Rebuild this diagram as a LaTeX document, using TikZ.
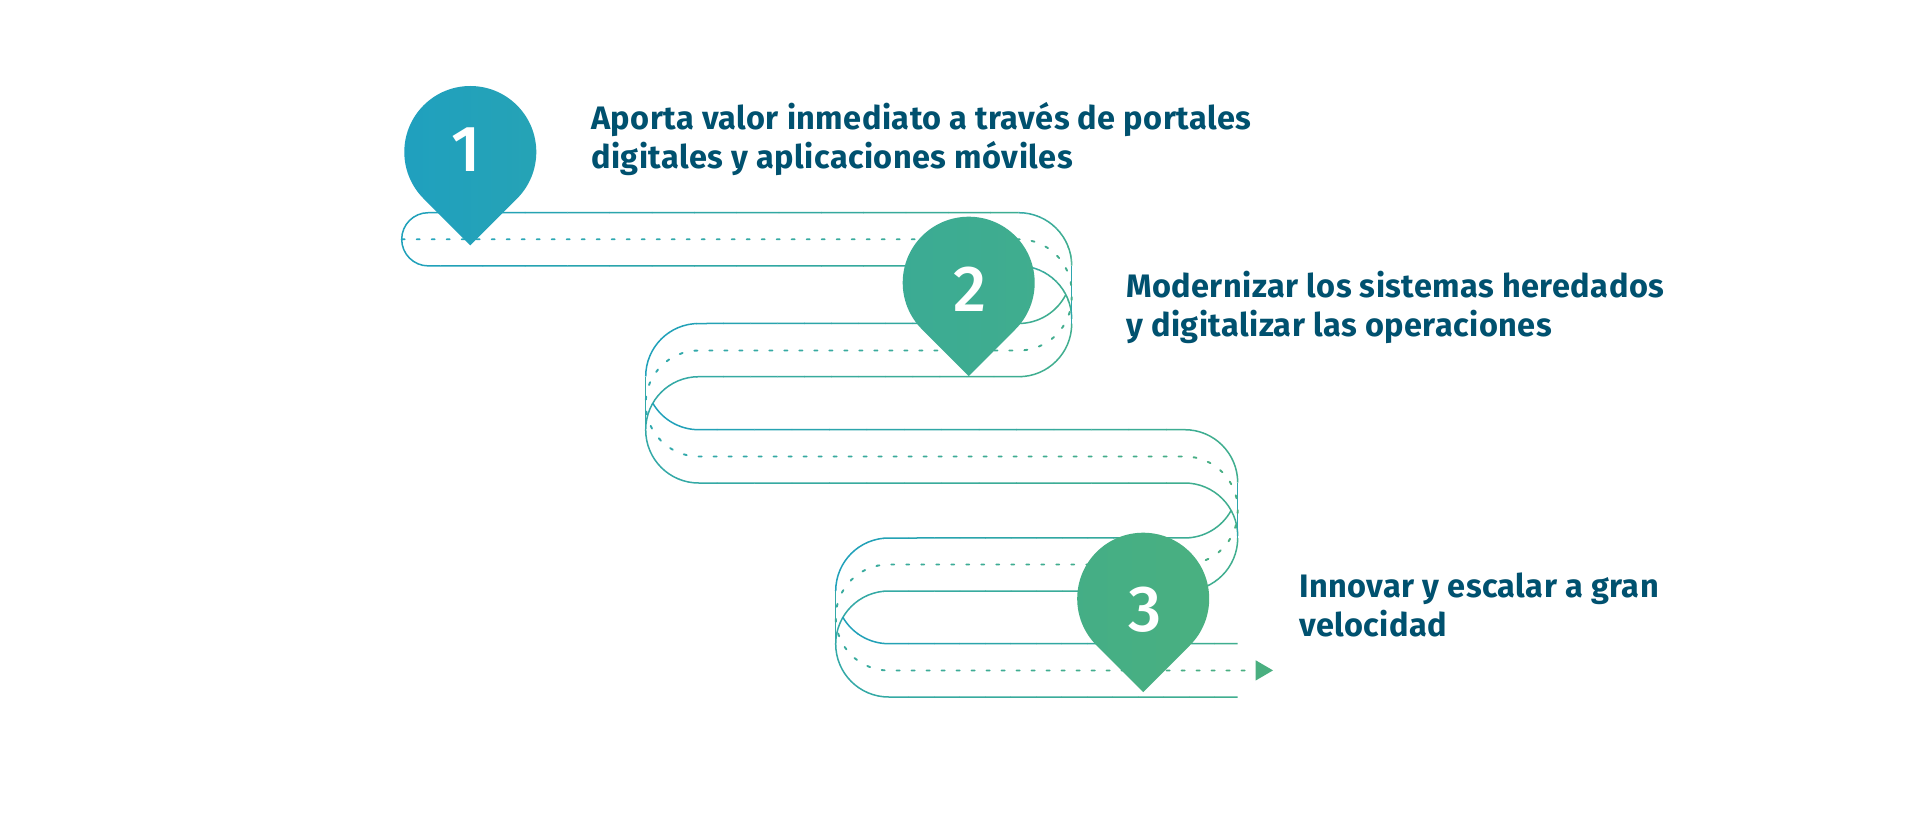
\documentclass[tikz,border=0pt]{standalone}
\usepackage{fontspec}
\setmainfont{Fira Sans}
\newfontfamily\capfont{Fira Sans}[LetterSpace=1.4]
\newfontfamily\numfont{Fira Sans Medium}
\definecolor{blueL}{HTML}{1FA0BC}
\definecolor{tealL}{HTML}{33A9A8}
\definecolor{greenR}{HTML}{40AE8E}
\definecolor{greenE}{HTML}{4AAF80}
\definecolor{dotL}{HTML}{26A6C0}
\definecolor{inkText}{HTML}{00516F}
\definecolor{pinAa}{HTML}{1FA0BF}
\definecolor{pinAb}{HTML}{26A3B5}
\definecolor{pinBa}{HTML}{3BAB94}
\definecolor{pinBb}{HTML}{40AD8E}
\definecolor{pinCa}{HTML}{44AE86}
\definecolor{pinCb}{HTML}{4AB080}
\tikzset{
  strand/.style={line width=1.5pt},
  dotline/.style={line width=1.9pt,line cap=round,dash pattern=on 3pt off 12pt},
  caption/.style={font=\capfont\fontsize{32.5}{39}\selectfont\bfseries,text=inkText,align=left,anchor=north west,inner sep=0pt},
  numeral/.style={font=\numfont\fontsize{65}{65}\selectfont,text=white,anchor=base,inner sep=0pt},
}
\newcommand\gstroke[5]{%
  \foreach \i in {0,...,15}{%
    \pgfmathsetmacro\xa{#1+(#2-#1)*\i/16}%
    \pgfmathsetmacro\xb{#1+(#2-#1)*(\i+1)/16+0.4}%
    \pgfmathtruncatemacro\p{100-100*(\i+0.5)/16}%
    \begin{scope}
      \clip (\xa,0) rectangle (\xb,837);
      \draw[strand,draw=#3!\p!#4] #5;
    \end{scope}
  }%
}
\newcommand\pinshape[5]{% cx cy colL colR r
  \path[left color=#3,right color=#4]
    (#1,#2+1.41421*#5) -- (#1-0.70711*#5,#2+0.70711*#5)
    arc[start angle=135,end angle=405,radius=#5] -- cycle;
}
\begin{document}
\begin{tikzpicture}[x=1pt,y=-1pt]
\useasboundingbox (0,0) rectangle (1920,837);
\fill[white] (0,0) rectangle (1920,837);
% band 1 with its rounded left end
\gstroke{398}{1075}{blueL}{greenR}{(1018.7,212.7) -- (428.3,212.7) arc[start angle=270,end angle=90,radius=26.6] -- (1018.7,265.9)}
\gstroke{1015}{1075}{tealL}{greenR}{(1018.7,212.7) arc[start angle=-90,end angle=0,radius=53]}
\gstroke{1015}{1075}{tealL}{greenR}{(1018.7,265.9) arc[start angle=-90,end angle=0,radius=53]}
% band 2: the upper edge starts at the crossing on the right
\gstroke{642}{1075}{blueL}{greenR}{(1065.8,294.7) arc[start angle=27.2,end angle=90,radius=53] -- (698.7,323.5) arc[start angle=270,end angle=180,radius=53]}
\gstroke{642}{1075}{tealL}{greenR}{(1071.7,323.7) arc[start angle=0,end angle=90,radius=53] -- (698.7,376.7) arc[start angle=270,end angle=180,radius=53]}
% band 3: the upper edge starts at the crossing on the left
\gstroke{642}{1241}{blueL}{greenR}{(652.8,403.2) arc[start angle=150,end angle=90,radius=53] -- (1184.7,429.7) arc[start angle=-90,end angle=0,radius=53]}
\gstroke{642}{1241}{tealL}{greenR}{(645.7,430) arc[start angle=180,end angle=90,radius=53] -- (1184.7,483) arc[start angle=-90,end angle=0,radius=53]}
% band 4: the upper edge starts at the crossing on the right
\gstroke{832}{1241}{blueL}{greenR}{(1231.1,510.5) arc[start angle=28.8,end angle=90,radius=53] -- (888.7,538) arc[start angle=270,end angle=180,radius=53]}
\gstroke{832}{1241}{tealL}{greenR}{(1237.7,538) arc[start angle=0,end angle=90,radius=53] -- (888.7,591) arc[start angle=270,end angle=180,radius=53]}
% band 5: the upper edge starts at the crossing on the left
\gstroke{832}{1240}{blueL}{greenR}{(842.8,617.2) arc[start angle=150,end angle=90,radius=53] -- (1237.7,643.7)}
\gstroke{832}{1240}{tealL}{greenR}{(835.7,644) arc[start angle=180,end angle=90,radius=53] -- (1237.7,697)}
% straight sides of the turns
\draw[strand,draw=tealL!70!blueL] (1071.7,265.9) -- (1071.7,323.7);
\draw[strand,draw=tealL] (645.7,376.7) -- (645.7,430);
\draw[strand,draw=tealL!70!blueL] (1237.7,483) -- (1237.7,538);
\draw[strand,draw=tealL] (835.7,591) -- (835.7,644);
% dotted centre line
\foreach \i in {0,...,19}{%
  \pgfmathsetmacro\xa{399+43.5*\i}%
  \pgfmathsetmacro\xb{399+43.5*(\i+1)+0.4}%
  \pgfmathtruncatemacro\p{100-100*(\i+0.5)/20}%
  \begin{scope}
    \clip (\xa,0) rectangle (\xb,837);
    \draw[dotline,draw=dotL!\p!greenE]
      (401.7,239.3) -- (1018.7,239.3) arc[start angle=-90,end angle=0,radius=53]
      -- (1071.7,297.5) arc[start angle=0,end angle=90,radius=53]
      -- (698.7,350.5) arc[start angle=270,end angle=90,radius=53]
      -- (1184.7,456.5) arc[start angle=-90,end angle=0,radius=53]
      -- (1237.7,511.5) arc[start angle=0,end angle=90,radius=53]
      -- (888.7,564.5) arc[start angle=270,end angle=90,radius=53]
      -- (1250,670.5);
  \end{scope}
}
% arrowhead
\fill[greenE] (1255.7,660.3) -- (1273,670.4) -- (1255.7,680.5) -- cycle;
% pins
\pinshape{470.3}{152}{pinAa}{pinAb}{66}
\pinshape{968.7}{282.7}{pinBa}{pinBb}{66}
\pinshape{1143.2}{598.7}{pinCa}{pinCb}{66}
\node[numeral] (n1) at (466,171.7) {1};
\node[numeral] (n2) at (970,311) {2};
\node[numeral] (n3) at (1145,631.7) {3};
\node[caption] (t1) at (591,102.3) {Aporta valor inmediato a través de portales\\digitales y aplicaciones móviles};
\node[caption] (t2) at (1126,271.3) {Modernizar los sistemas heredados\\y digitalizar las operaciones};
\node[caption] (t3) at (1299,573) {Innovar y escalar a gran\\velocidad};
\end{tikzpicture}
\end{document}
